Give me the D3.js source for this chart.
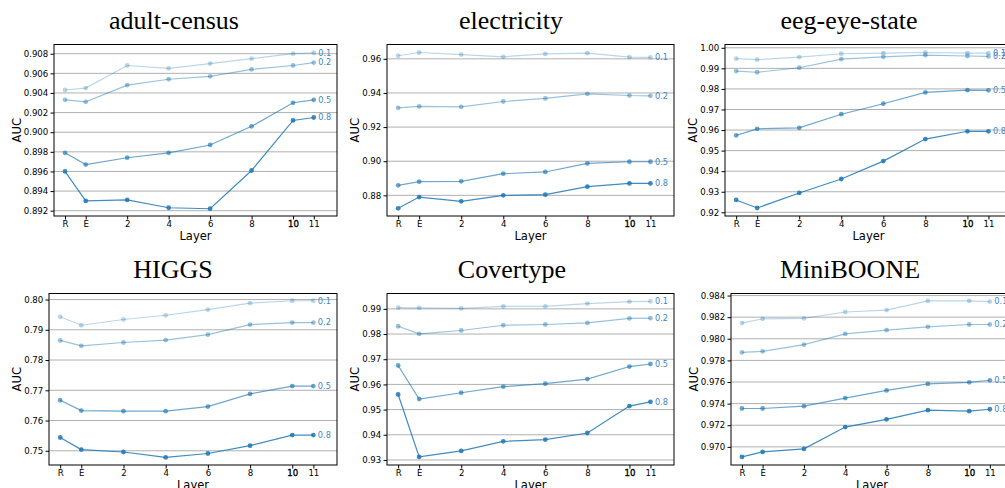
<!DOCTYPE html>
<html>
<head>
<meta charset="utf-8">
<script src="https://cdnjs.cloudflare.com/ajax/libs/d3/7.8.5/d3.min.js"></script>
<style>
body { margin:0; background:#fff; }
</style>
</head>
<body>
<script>
// x categories (R = raw, E = embedding, then layer numbers)
var layerLabels = ["R","E","2","4","6","8","10","11"];
var layerPos = [-1,0,2,4,6,8,10,11];
var ratios = ["0.1","0.2","0.5","0.8"];
var titles = ["adult-census","electricity","eeg-eye-state","HIGGS","Covertype","MiniBOONE"];

// AUC per ratio, one row per ratio (0.1, 0.2, 0.5, 0.8)
var adultCensus = [
  [0.9043,0.9045,0.9068,0.9065,0.9070,0.9075,0.9080,0.9081],
  [0.9033,0.9031,0.9048,0.9054,0.9057,0.9064,0.9068,0.9071],
  [0.8979,0.8967,0.8974,0.8979,0.8987,0.9006,0.9030,0.9033],
  [0.8960,0.8930,0.8931,0.8923,0.8922,0.8961,0.9012,0.9015]
];
var electricity = [
  [0.9618,0.9637,0.9625,0.9612,0.9629,0.9633,0.9610,0.9608],
  [0.9313,0.9321,0.9319,0.9350,0.9368,0.9395,0.9385,0.9383],
  [0.8859,0.8880,0.8882,0.8927,0.8937,0.8987,0.8997,0.8997],
  [0.8724,0.8790,0.8765,0.8800,0.8804,0.8851,0.8870,0.8870]
];
var eegEyeState = [
  [0.9947,0.9942,0.9955,0.9971,0.9974,0.9977,0.9974,0.9974],
  [0.9887,0.9881,0.9903,0.9945,0.9956,0.9964,0.9960,0.9958],
  [0.9574,0.9606,0.9611,0.9677,0.9728,0.9783,0.9794,0.9793],
  [0.9260,0.9221,0.9294,0.9362,0.9449,0.9556,0.9594,0.9594]
];
var higgs = [
  [0.7943,0.7915,0.7934,0.7948,0.7967,0.7988,0.7996,0.7996],
  [0.7865,0.7847,0.7858,0.7866,0.7884,0.7917,0.7924,0.7924],
  [0.7667,0.7633,0.7631,0.7631,0.7646,0.7688,0.7714,0.7714],
  [0.7544,0.7504,0.7496,0.7478,0.7491,0.7517,0.7552,0.7552]
];
var covertype = [
  [0.9905,0.9904,0.9902,0.9910,0.9910,0.9921,0.9929,0.9930],
  [0.9831,0.9801,0.9814,0.9835,0.9838,0.9844,0.9862,0.9863],
  [0.9675,0.9542,0.9567,0.9591,0.9603,0.9621,0.9671,0.9681],
  [0.9560,0.9312,0.9336,0.9374,0.9381,0.9407,0.9514,0.9531]
];
var miniBoone = [
  [0.98145,0.98185,0.98188,0.98248,0.98266,0.98350,0.98350,0.98344],
  [0.97874,0.97884,0.97946,0.98045,0.98080,0.98111,0.98132,0.98132],
  [0.97355,0.97355,0.97376,0.97451,0.97522,0.97582,0.97597,0.97616],
  [0.96907,0.96953,0.96981,0.97183,0.97255,0.97339,0.97330,0.97348]
];

// y tick labels
var adultTicks = [0.892,0.894,0.896,0.898,0.900,0.902,0.904,0.906,0.908];
var elecTicks = [0.88,0.90,0.92,0.94,0.96];
var eegTicks = [0.92,0.93,0.94,0.95,0.96,0.97,0.98,0.99,1.00];
var higgsTicks = [0.75,0.76,0.77,0.78,0.79,0.80];
var coverTicks = [0.93,0.94,0.95,0.96,0.97,0.98,0.99];
var booneTicks = [0.970,0.972,0.974,0.976,0.978,0.980,0.982,0.984];

var allData = [adultCensus, electricity, eegEyeState, higgs, covertype, miniBoone];
var allTicks = [adultTicks, elecTicks, eegTicks, higgsTicks, coverTicks, booneTicks];

// layout of the six axes
var panels = [
  {left:54,  top:44.5,  w:283, h:171.5, titleX:174, yDom:[0.89146,0.90894], fmt:".3f"},
  {left:387, top:44.5,  w:287, h:171.5, titleX:511, yDom:[0.8679,0.9684],   fmt:".2f"},
  {left:725, top:44.5,  w:287, h:171.5, titleX:849, yDom:[0.9182,1.0016],   fmt:".2f"},
  {left:49,  top:293.5, w:288, h:171.5, titleX:173, yDom:[0.7453,0.8020],   fmt:".2f"},
  {left:387, top:293.5, w:287, h:171.5, titleX:512, yDom:[0.9280,0.9961],   fmt:".2f"},
  {left:731, top:293.5, w:282, h:171.5, titleX:850, yDom:[0.96832,0.98419], fmt:".3f"}
];

var blue = "#1f77b4";
var alphas = [0.3,0.45,0.65,0.85];

var svg = d3.select("body").append("svg")
  .attr("width",1005)
  .attr("height",488)
  .style("background","#fff");

panels.forEach(function(p,i){
  var data = allData[i];
  var g = svg.append("g")
    .attr("transform","translate("+p.left+","+p.top+")");

  var x = d3.scaleLinear().domain([-1.53,12.12]).range([0,p.w]);
  var y = d3.scaleLinear().domain(p.yDom).range([p.h,0]);

  // title
  svg.append("text")
    .text(titles[i])
    .attr("x",p.titleX)
    .attr("y",p.top-15.5)
    .attr("text-anchor","middle")
    .attr("font-family","'Liberation Serif', 'Times New Roman', serif")
    .attr("font-size","26px")
    .attr("fill","#000");

  // horizontal grid
  g.selectAll(".grid")
    .data(allTicks[i])
    .enter()
    .append("line")
    .attr("x1",0)
    .attr("x2",p.w)
    .attr("y1",function(d){ return y(d); })
    .attr("y2",function(d){ return y(d); })
    .attr("stroke","#b0b0b0")
    .attr("stroke-width",1);

  // lines + markers
  var line = d3.line()
    .x(function(d,j){ return x(layerPos[j]); })
    .y(function(d){ return y(d); });

  data.forEach(function(series,k){
    g.append("path")
      .datum(series)
      .attr("d",line)
      .attr("fill","none")
      .attr("stroke",blue)
      .attr("stroke-opacity",alphas[k])
      .attr("stroke-width",1.2);

    g.selectAll(".pt"+k)
      .data(series)
      .enter()
      .append("circle")
      .attr("cx",function(d,j){ return x(layerPos[j]); })
      .attr("cy",function(d){ return y(d); })
      .attr("r",2.4)
      .attr("fill",blue)
      .attr("fill-opacity",alphas[k]);

    g.append("text")
      .text(ratios[k])
      .attr("x",x(11)+4.5)
      .attr("y",y(series[series.length-1]))
      .attr("dy","0.35em")
      .attr("font-family","'DejaVu Sans', sans-serif")
      .attr("font-size","8.2px")
      .attr("fill","#3f86c4");
  });

  // frame
  g.append("rect")
    .attr("x",0)
    .attr("y",0)
    .attr("width",p.w)
    .attr("height",p.h)
    .attr("fill","none")
    .attr("stroke","#000")
    .attr("stroke-width",1);

  // axes
  var xg = g.append("g")
    .attr("transform","translate(0,"+p.h+")")
    .call(d3.axisBottom(x)
      .tickValues(layerPos)
      .tickFormat(function(d,j){ return layerLabels[j]; })
      .tickSize(3.5)
      .tickPadding(1.2));
  xg.select(".domain").remove();
  xg.attr("font-family","'DejaVu Sans', sans-serif").attr("font-size","8.6px");
  xg.selectAll(".tick text")
    .filter(function(d){ return d === 10; })
    .attr("stroke","#000")
    .attr("stroke-width",0.35);

  var yg = g.append("g")
    .call(d3.axisLeft(y)
      .tickValues(allTicks[i])
      .tickFormat(d3.format(p.fmt))
      .tickSize(3.5)
      .tickPadding(2.2));
  yg.select(".domain").remove();
  yg.attr("font-family","'DejaVu Sans', sans-serif").attr("font-size","8.6px");

  // axis labels
  g.append("text")
    .text("Layer")
    .attr("x",p.w/2)
    .attr("y",p.h+23.5)
    .attr("text-anchor","middle")
    .attr("font-family","'DejaVu Sans', sans-serif")
    .attr("font-size","11.5px")
    .attr("fill","#000");

  var bb = yg.node().getBBox();
  g.append("text")
    .text("AUC")
    .attr("transform","translate("+(bb.x-3)+","+(p.h/2)+") rotate(-90)")
    .attr("text-anchor","middle")
    .attr("font-family","'DejaVu Sans', sans-serif")
    .attr("font-size","11.5px")
    .attr("fill","#000");
});
</script>
</body>
</html>
